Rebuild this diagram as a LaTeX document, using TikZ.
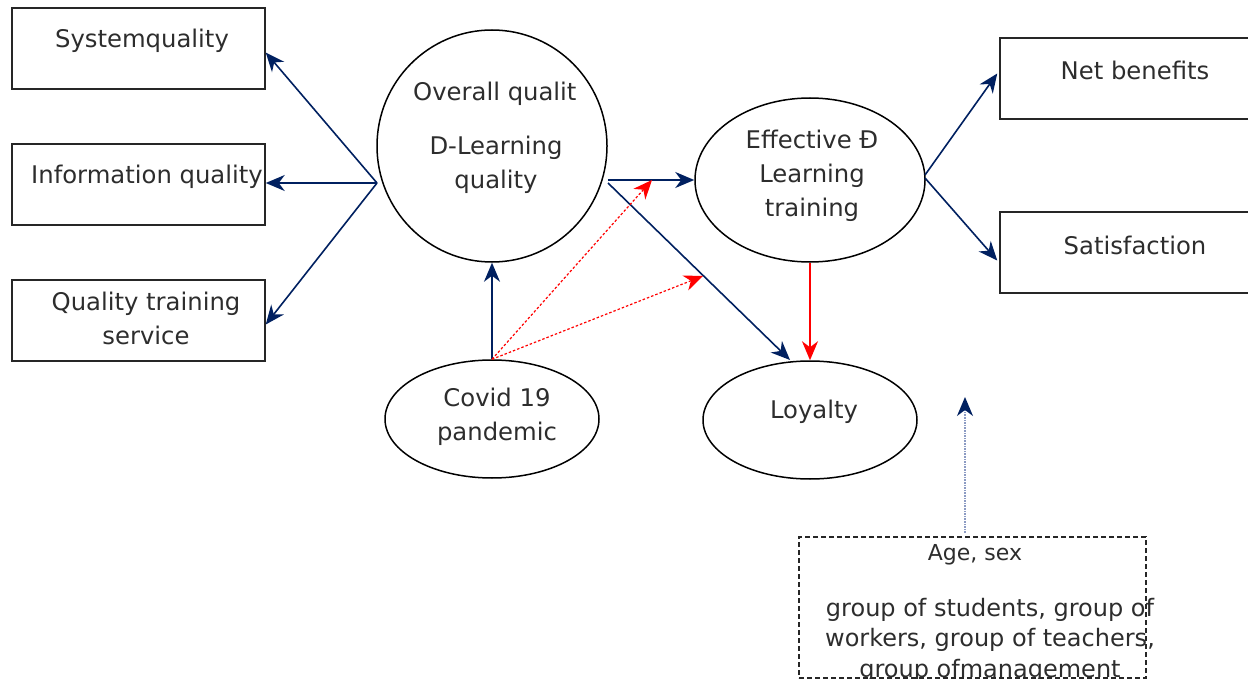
\documentclass[tikz,border=0pt]{standalone}
\usepackage{fontspec}
\setmainfont{DejaVu Sans}
\usetikzlibrary{arrows.meta,calc,shapes.geometric}
\definecolor{navy}{RGB}{0,32,96}
\definecolor{txt}{RGB}{45,45,45}
\definecolor{dotblue}{RGB}{140,155,195}
\tikzset{
  box/.style={draw=black!85,line width=1.5pt,minimum width=253pt,minimum height=81pt,inner sep=0pt},
  oval/.style={draw=black,line width=1.5pt,ellipse,inner sep=0pt},
  lbl/.style={text=txt,font=\fontsize{24.3}{34}\selectfont,align=center,inner sep=0pt},
  tip/.style={-{Stealth[length=19pt,width=16pt,inset=6pt]}},
  nav/.style={navy,line width=1.6pt,tip},
  redsolid/.style={red,line width=1.7pt,tip},
  reddot/.style={red,line width=1.2pt,dash pattern=on 2.5pt off 2pt,tip},
}
\begin{document}
\begin{tikzpicture}[x=1pt,y=-1pt]
\useasboundingbox (0,0) rectangle (1248,682);
% boxes
\node[box] (b1) at (138.5,48.5) {};
\node[box] (b2) at (138.5,184.5) {};
\node[box] (b3) at (138.5,320.5) {};
\node[box,minimum width=260pt] (net) at (1130,78.5) {};
\node[box,minimum width=260pt] (sat) at (1130,252.5) {};
\node[lbl] (t1) at (142,41) {Systemquality};
\node[lbl] (t2) at (147,177) {Information quality};
\node[lbl] (t3) at (146,318) {Quality training\\service};
\node[lbl] (tn) at (1135,70) {Net benefits};
\node[lbl] (ts) at (1135,245) {Satisfaction};
% ellipses
\node[oval,minimum width=230pt,minimum height=232pt] (ov) at (492,146) {};
\node[oval,minimum width=230pt,minimum height=164pt] (eff) at (810,180) {};
\node[oval,minimum width=214pt,minimum height=118pt] (cov) at (492,419) {};
\node[oval,minimum width=214pt,minimum height=118pt] (loy) at (810,420) {};
\begin{scope}
\clip (400,70) rectangle (575,118);
\node[lbl,anchor=west] (to1) at (413,94) {Overall quality};
\end{scope}
\node[lbl] (to2) at (496,165) {D-Learning\\quality};
\node[lbl] (te) at (812,176) {Effective Đ\\Learning\\training};
\node[lbl] (tc) at (497,417) {Covid 19\\pandemic};
\node[lbl] (tl) at (814,412) {Loyalty};
% dashed box
\node[draw=black!85,dash pattern=on 5pt off 3pt,line width=1.4pt,minimum width=347pt,minimum height=141pt,inner sep=0pt] (db) at (972.5,607.5) {};
\node[lbl,font=\fontsize{22}{30}\selectfont] (ta) at (975,555) {Age, sex};
\begin{scope}
\clip (790,580) rectangle (1160,678);
\node[lbl,font=\fontsize{24}{30.5}\selectfont] (tg) at (990,640) {group of students, group of\\workers, group of teachers,\\group ofmanagement};
\end{scope}
% coordinates
\coordinate (hub) at (377,183);
\coordinate (o1) at (608,180);
\coordinate (o2) at (608,183);
\coordinate (lt) at (790,360);
\coordinate (e1) at (925,175);
\coordinate (e2) at (925,178);
\coordinate (r1) at (652,180);
\coordinate (r2) at (703,276);
\coordinate (vs) at (965,533);
\coordinate (ve) at (965,397);
% connectors
\draw[nav] (hub) -- ($(b1.east)+(0,4)$);
\draw[nav] (hub) -- (b2.east |- hub);
\draw[nav] (hub) -- ($(b3.east)+(0,4)$);
\draw[nav] (cov.north) -- (ov.south);
\draw[nav] (o1) -- (eff.west);
\draw[nav] (o2) -- (lt);
\draw[redsolid] (eff.south) -- (loy.north);
\draw[nav] (e1) -- ($(net.west)+(-2,-5)$);
\draw[nav] (e2) -- ($(sat.west)+(-2,8)$);
\draw[reddot] (cov.north) -- (r1);
\draw[reddot] (cov.north) -- (r2);
\draw[dotblue,line width=1.6pt,densely dotted,-{Stealth[length=19pt,width=16pt,inset=6pt,color=navy]}] (vs) -- (ve);
\end{tikzpicture}
\end{document}
